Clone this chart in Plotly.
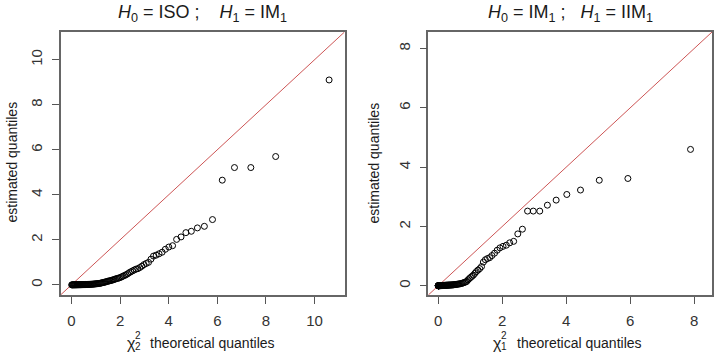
import plotly.graph_objects as go

# ---------------- data ----------------
# left panel: chi-square(2) theoretical quantiles vs estimated quantiles
left_theoretical = [
    0.0100, 0.0302, 0.0506, 0.0713, 0.0921, 0.1131, 0.1344, 0.1559, 0.1777, 0.1996,
    0.2219, 0.2443, 0.2671, 0.2901, 0.3133, 0.3368, 0.3606, 0.3847, 0.4091, 0.4338,
    0.4588, 0.4841, 0.5098, 0.5358, 0.5621, 0.5887, 0.6158, 0.6432, 0.6709, 0.6991,
    0.7277, 0.7567, 0.7861, 0.8159, 0.8462, 0.8770, 0.9083, 0.9400, 0.9723, 1.0051,
    1.0384, 1.0723, 1.1068, 1.1419, 1.1776, 1.2139, 1.2510, 1.2887, 1.3272, 1.3664,
    1.4064, 1.4472, 1.4889, 1.5314, 1.5749, 1.6194, 1.6648, 1.7113, 1.7590, 1.8077,
    1.8577, 1.9090, 1.9617, 2.0157, 2.0713, 2.1284, 2.1873, 2.2479, 2.3104, 2.3749,
    2.4416, 2.5105, 2.5820, 2.6561, 2.7330, 2.8130, 2.8963, 2.9833, 3.0742, 3.1695,
    3.2695, 3.3748, 3.4859, 3.6036, 3.7287, 3.8620, 4.0050, 4.1589, 4.3256, 4.5076,
    4.7078, 4.9302, 5.1805, 5.4667, 5.8008, 6.2022, 6.7048, 7.3778, 8.3994, 10.5966,
]
left_estimated = [
    0.000, 0.0005, 0.001, 0.001, 0.0015, 0.002, 0.002, 0.0025, 0.003, 0.003,
    0.004, 0.004, 0.005, 0.005, 0.006, 0.006, 0.007, 0.008, 0.008, 0.009,
    0.010, 0.011, 0.012, 0.013, 0.014, 0.015, 0.016, 0.018, 0.019, 0.020,
    0.022, 0.024, 0.026, 0.028, 0.030, 0.032, 0.035, 0.038, 0.042, 0.046,
    0.050, 0.055, 0.060, 0.066, 0.072, 0.080, 0.090, 0.100, 0.110, 0.120,
    0.130, 0.145, 0.160, 0.170, 0.180, 0.190, 0.210, 0.220, 0.240, 0.260,
    0.280, 0.290, 0.310, 0.330, 0.360, 0.390, 0.420, 0.450, 0.490, 0.540,
    0.580, 0.620, 0.660, 0.700, 0.720, 0.770, 0.830, 0.900, 0.950, 1.000,
    1.140, 1.280, 1.320, 1.380, 1.450, 1.580, 1.680, 1.740, 2.020, 2.130,
    2.320, 2.380, 2.530, 2.600, 2.900, 4.650, 5.210, 5.210, 5.700, 9.100,
]

# right panel: chi-square(1) theoretical quantiles vs estimated quantiles
right_theoretical = [
    0.00004, 0.00035, 0.00098, 0.00193, 0.00319, 0.00477, 0.00666, 0.00886, 0.0114, 0.01425,
    0.01745, 0.02097, 0.02481, 0.02897, 0.03343, 0.03822, 0.04343, 0.04897, 0.0549, 0.06111,
    0.06765, 0.07458, 0.0818, 0.0894, 0.09747, 0.10601, 0.11485, 0.12405, 0.13359, 0.14357,
    0.15382, 0.16467, 0.17606, 0.18792, 0.20017, 0.2128, 0.22572, 0.23912, 0.2530, 0.2679,
    0.2832, 0.2990, 0.3151, 0.3317, 0.3487, 0.3665, 0.3855, 0.4050, 0.4250, 0.4454,
    0.4662, 0.4876, 0.5109, 0.5349, 0.5595, 0.5846, 0.6103, 0.6365, 0.6654, 0.6951,
    0.7254, 0.7564, 0.7880, 0.8210, 0.8571, 0.8940, 0.9316, 0.9700, 1.0100, 1.0543,
    1.0994, 1.1455, 1.1925, 1.2441, 1.2989, 1.3547, 1.4118, 1.4740, 1.5411, 1.6099,
    1.6801, 1.7604, 1.8442, 1.9299, 2.0261, 2.1293, 2.2353, 2.3590, 2.4885, 2.6325,
    2.7932, 2.9722, 3.1748, 3.4136, 3.6879, 4.0204, 4.4483, 5.0355, 5.9302, 7.8888,
]
right_estimated = [
    0.000, 0.000, 0.001, 0.001, 0.001, 0.002, 0.002, 0.002, 0.003, 0.003,
    0.003, 0.004, 0.004, 0.004, 0.005, 0.005, 0.005, 0.006, 0.006, 0.007,
    0.007, 0.007, 0.008, 0.008, 0.008, 0.009, 0.009, 0.010, 0.010, 0.010,
    0.011, 0.012, 0.013, 0.014, 0.015, 0.016, 0.017, 0.018, 0.019, 0.020,
    0.021, 0.022, 0.023, 0.024, 0.025, 0.026, 0.027, 0.028, 0.029, 0.030,
    0.033, 0.036, 0.040, 0.044, 0.048, 0.052, 0.056, 0.060, 0.065, 0.070,
    0.080, 0.090, 0.100, 0.115, 0.130, 0.150, 0.200, 0.240, 0.280, 0.320,
    0.360, 0.420, 0.480, 0.530, 0.580, 0.650, 0.800, 0.880, 0.920, 0.950,
    1.020, 1.100, 1.200, 1.280, 1.330, 1.370, 1.450, 1.500, 1.750, 1.910,
    2.520, 2.520, 2.520, 2.720, 2.890, 3.080, 3.230, 3.560, 3.620, 4.600,
]

left_ticks = [0, 2, 4, 6, 8, 10]
right_ticks = [0, 2, 4, 6, 8]
left_range = [-0.45, 11.23]
right_range = [-0.31, 8.56]

NB = "\u00a0"
left_title = ("<i>H</i><sub>0</sub>" + NB + "=" + NB + "ISO" + NB + ";" + NB * 4
              + "<i>H</i><sub>1</sub>" + NB + "=" + NB + "IM<sub>1</sub>")
right_title = ("<i>H</i><sub>0</sub>" + NB + "=" + NB + "IM<sub>1</sub>" + NB + ";" + NB * 3
               + "<i>H</i><sub>1</sub>" + NB + "=" + NB + "IIM<sub>1</sub>")
y_label = "estimated quantiles"
x_label = "theoretical quantiles"
chi_df = ["2", "1"]

# ---------------- layout helpers ----------------
W, H = 728, 352
FONT = "Liberation Sans, Arial, sans-serif"


def pxx(v):
    return v / W


def pxy(v):
    return 1 - v / H


fig = go.Figure()

line_col = "rgb(205,85,85)"
for xs, ys, rng, xa, ya in [
    (left_theoretical, left_estimated, left_range, "x", "y"),
    (right_theoretical, right_estimated, right_range, "x2", "y2"),
]:
    fig.add_trace(go.Scatter(x=rng, y=rng, mode="lines", xaxis=xa, yaxis=ya,
                             line=dict(color=line_col, width=1), hoverinfo="skip",
                             showlegend=False))
    fig.add_trace(go.Scatter(x=xs, y=ys, mode="markers", xaxis=xa, yaxis=ya,
                             marker=dict(symbol="circle-open", size=6,
                                         line=dict(color="black", width=1), color="black"),
                             showlegend=False))

axis_common = dict(showgrid=False, zeroline=False, showline=True, mirror=True,
                   linecolor="#666666", linewidth=1.5, ticks="outside", ticklen=7,
                   tickcolor="#555555", tickwidth=1,
                   tickfont=dict(family=FONT, size=15, color="#333333"))

ydom = [pxy(295), pxy(32)]
fig.update_layout(
    width=W, height=H, margin=dict(l=0, r=0, t=0, b=0),
    paper_bgcolor="white", plot_bgcolor="white",
    xaxis=dict(domain=[pxx(60.5), pxx(344.5)], range=left_range, tickvals=left_ticks,
               anchor="y", ticklabelstandoff=4, **axis_common),
    yaxis=dict(domain=ydom, range=left_range, tickvals=left_ticks, anchor="x",
               tickangle=-90, ticklabelstandoff=4, **axis_common),
    xaxis2=dict(domain=[pxx(428.3), pxx(712)], range=right_range, tickvals=right_ticks,
                anchor="y2", ticklabelstandoff=4, **axis_common),
    yaxis2=dict(domain=ydom, range=right_range, tickvals=right_ticks, anchor="x2",
                tickangle=-90, ticklabelstandoff=4, **axis_common),
)

ann = []
txt = dict(family=FONT, color="#1a1a1a")
# panel titles
for t, cx in [(left_title, 202.5), (right_title, 570)]:
    ann.append(dict(text=t, x=pxx(cx), y=pxy(13), xref="paper", yref="paper",
                    showarrow=False, xanchor="center", yanchor="middle",
                    font=dict(size=18, **txt)))
# y labels
for cx in [11, 373]:
    ann.append(dict(text=y_label, x=pxx(cx), y=pxy(162.5), xref="paper", yref="paper",
                    showarrow=False, xanchor="center", yanchor="middle", textangle=-90,
                    font=dict(size=14, **txt)))
# x labels with stacked chi-square notation
for chix, labx, df in [(131, 212.5, chi_df[0]), (497, 579.5, chi_df[1])]:
    ann.append(dict(text="\u03c7", x=pxx(chix), y=pxy(343), xref="paper", yref="paper",
                    showarrow=False, xanchor="center", yanchor="middle",
                    font=dict(size=16, **txt)))
    ann.append(dict(text="2", x=pxx(chix + 7), y=pxy(335), xref="paper", yref="paper",
                    showarrow=False, xanchor="center", yanchor="middle",
                    font=dict(size=10, **txt)))
    ann.append(dict(text=df, x=pxx(chix + 7), y=pxy(346), xref="paper", yref="paper",
                    showarrow=False, xanchor="center", yanchor="middle",
                    font=dict(size=10, **txt)))
    ann.append(dict(text=x_label, x=pxx(labx), y=pxy(342.5), xref="paper", yref="paper",
                    showarrow=False, xanchor="center", yanchor="middle",
                    font=dict(size=14, **txt)))
fig.update_layout(annotations=ann)

fig.write_html("out.html")
